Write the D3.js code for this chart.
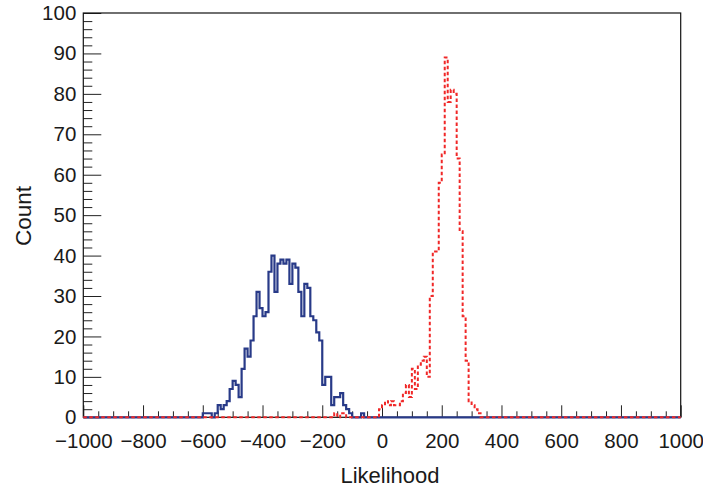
<!DOCTYPE html>
<html>
<head>
<meta charset="utf-8">
<script src="https://cdn.jsdelivr.net/npm/d3@7"></script>
<style>
  body { margin: 0; background: #fff; }
  svg text { font-family: "Liberation Sans", Arial, Helvetica, sans-serif; fill: #1a1a1a; }
</style>
</head>
<body>
<script>
// HISTOGRAM BINNING (10 units per bin, -1000 .. 1000)
var binLow = -1000, binHigh = 1000, binWidth = 10;

// BLUE (SOLID) COUNTS, FIRST BIN STARTS AT -600
var blueFrom = -600;
var blueCounts = [1, 1, 1, 0, 1, 3, 2, 3, 4, 7, 9, 8, 5, 12, 17, 15, 19, 25, 31, 27, 25, 26, 36, 40,
                  31, 38, 39, 38, 39, 33, 38, 37, 31, 25, 33, 32, 25, 24, 21, 19,
                  8, 10, 10, 3, 5, 5, 6, 3, 2, 1, 0, 0, 0, 1];

// RED (DASHED) COUNTS, FIRST BIN STARTS AT -160
var redFrom = -160;
var redCounts = [1, 0, 1, 1, 0, 0, 0, 0, 0, 0, 0, 0, 0, 0, 0, 2, 3, 4, 3, 4, 3, 3, 4, 6, 8, 5,
                 12, 7, 13, 14, 15, 10, 30, 41, 41, 58, 65, 89, 78, 81, 80, 64, 46, 25, 14, 4, 3, 2, 1];

// AXIS TICKS
var xMajor = [-1000, -800, -600, -400, -200, 0, 200, 400, 600, 800, 1000];
var yMajor = [0, 10, 20, 30, 40, 50, 60, 70, 80, 90, 100];
var xMinorStep = 50, yMinorStep = 2;

var xTitle = 'Likelihood', yTitle = 'Count';

// LAYOUT
var W = 703, H = 488;
var frame = { left: 83.3, right: 680.7, top: 13, bottom: 417.3 };

var svg = d3.select('body').append('svg')
   .attr('width', W)
   .attr('height', H);

var x = d3.scaleLinear().domain([binLow, binHigh]).range([frame.left, frame.right]);
var y = d3.scaleLinear().domain([0, 100]).range([frame.bottom, frame.top]);

// EXPAND A PARTIAL COUNT LIST TO THE FULL BIN RANGE
function fullBins(from, counts) {
   var out = [];
   for (var v = binLow; v < binHigh; v += binWidth) {
      var k = Math.round((v - from) / binWidth);
      out.push({ low: v, c: (k >= 0 && k < counts.length) ? counts[k] : 0 });
   }
   out.push({ low: binHigh, c: out[out.length - 1].c });
   return out;
}

var step = d3.line()
   .x(function(d) { return x(d.low); })
   .y(function(d) { return y(d.c); })
   .curve(d3.curveStepAfter);

// MINOR TICKS
var xMinor = d3.range(binLow, binHigh + 1, xMinorStep).filter(function(v) { return xMajor.indexOf(v) < 0; });
var yMinor = d3.range(0, 101, yMinorStep).filter(function(v) { return yMajor.indexOf(v) < 0; });

svg.append('g')
   .attr('transform', 'translate(0,' + frame.bottom + ')')
   .call(d3.axisBottom(x).tickValues(xMinor).tickSize(-6).tickFormat(''))
   .call(function(g) { g.select('.domain').remove(); });

svg.append('g')
   .attr('transform', 'translate(' + frame.left + ',0)')
   .call(d3.axisLeft(y).tickValues(yMinor).tickSize(-9).tickFormat(''))
   .call(function(g) { g.select('.domain').remove(); });

// MAJOR TICKS + LABELS
var gx = svg.append('g')
   .attr('transform', 'translate(0,' + frame.bottom + ')')
   .call(d3.axisBottom(x).tickValues(xMajor).tickSize(-12).tickPadding(16).tickFormat(d3.format('d')));
gx.select('.domain').remove();

var gy = svg.append('g')
   .attr('transform', 'translate(' + frame.left + ',0)')
   .call(d3.axisLeft(y).tickValues(yMajor).tickSize(-18).tickPadding(7).tickFormat(d3.format('d')));
gy.select('.domain').remove();

svg.selectAll('.tick line').attr('stroke', '#222').attr('stroke-width', 1);
svg.selectAll('.tick text')
   .attr('font-size', 20.5)
   .attr('font-family', '"Liberation Sans", Arial, Helvetica, sans-serif')
   .attr('fill', '#1a1a1a');

// FRAME
svg.append('rect')
   .attr('x', frame.left)
   .attr('y', frame.top)
   .attr('width', frame.right - frame.left)
   .attr('height', frame.bottom - frame.top)
   .attr('fill', 'none')
   .attr('stroke', '#111')
   .attr('stroke-width', 1.2);

// BLUE HISTOGRAM
svg.append('path')
   .attr('d', step(fullBins(blueFrom, blueCounts)))
   .attr('fill', 'none')
   .attr('stroke', '#283a88')
   .attr('stroke-width', 2.2);

// RED HISTOGRAM
svg.append('path')
   .attr('d', step(fullBins(redFrom, redCounts)))
   .attr('fill', 'none')
   .attr('stroke', '#f02828')
   .attr('stroke-width', 2)
   .attr('stroke-dasharray', '3.5,2.5');

// AXIS TITLES
svg.append('text')
   .attr('x', 390)
   .attr('y', 482.5)
   .attr('text-anchor', 'middle')
   .attr('font-size', 22)
   .text(xTitle);

svg.append('text')
   .attr('transform', 'translate(30.5,216) rotate(-90)')
   .attr('text-anchor', 'middle')
   .attr('font-size', 22.5)
   .text(yTitle);
</script>
</body>
</html>
